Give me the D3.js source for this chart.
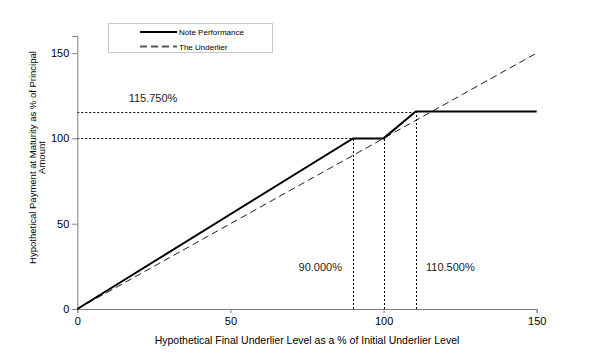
<!DOCTYPE html>
<html><head><meta charset="utf-8">
<script src="https://cdn.jsdelivr.net/npm/d3@7"></script>
<style>body{margin:0;background:#fff}svg{display:block}text{font-family:"Liberation Sans",Arial,sans-serif}</style>
</head><body><svg id="c" width="608" height="356"></svg>
<script>
const levels = [0, 90, 100, 110.5, 150];
const notePerformance = [0, 100, 100, 115.75, 115.75];
const underlierLevels = [0, 150];
const underlierValues = [0, 150];
const xTicks = [0, 50, 100, 150];
const yTicks = [0, 50, 100, 150];
const refV = [{x:90, y:100, label:"90.000%"}, {x:100, y:100, label:null}, {x:110.5, y:115.75, label:"110.500%"}];
const refH = [{x:100, y:100, label:null}, {x:110.5, y:115.75, label:"115.750%"}];
const seriesNames = ["Note Performance", "The Underlier"];

const svg = d3.select("#c");
const x = d3.scaleLinear().domain([0,150]).range([77.3,536.7]);
const y = d3.scaleLinear().domain([0,160]).range([309,36]);

// reference dotted lines
refH.forEach(d=>{
  svg.append("line").attr("x1",x(0)).attr("x2",x(d.x)).attr("y1",Math.round(y(d.y))+0.5).attr("y2",Math.round(y(d.y))+0.5)
    .attr("stroke","#000").attr("stroke-width",1).attr("stroke-dasharray","2,2");
});
refV.forEach(d=>{
  svg.append("line").attr("x1",Math.round(x(d.x))+0.5).attr("x2",Math.round(x(d.x))+0.5).attr("y1",y(0)).attr("y2",y(d.y))
    .attr("stroke","#000").attr("stroke-width",1).attr("stroke-dasharray","2,2");
});

// axes
const gx = svg.append("g").attr("transform",`translate(0,${y(0)})`)
  .call(d3.axisBottom(x).tickValues(xTicks).tickSize(4).tickPadding(4).tickFormat(d3.format("d")));
const gy = svg.append("g").attr("transform",`translate(${x(0)},0)`)
  .call(d3.axisLeft(y).tickValues(yTicks).tickSize(5).tickPadding(3).tickFormat(d3.format("d")));
[gx,gy].forEach(g=>{
  g.select(".domain").attr("stroke","#808080");
  g.selectAll(".tick line").attr("stroke","#808080");
  g.selectAll(".tick text").attr("font-size",11).attr("fill","#000").attr("font-family","Liberation Sans, Arial, sans-serif");
});

// underlier
svg.append("path").datum(underlierLevels.map((v,i)=>[v,underlierValues[i]]))
  .attr("d",d3.line().x(d=>x(d[0])).y(d=>y(d[1])))
  .attr("fill","none").attr("stroke","#222").attr("stroke-width",1).attr("stroke-dasharray","7,4");
// note performance
svg.append("path").datum(levels.map((v,i)=>[v,notePerformance[i]]))
  .attr("d",d3.line().x(d=>x(d[0])).y(d=>y(d[1])))
  .attr("fill","none").attr("stroke","#000").attr("stroke-width",2);

// annotations
svg.append("text").attr("x",153).attr("y",102).attr("text-anchor","middle").attr("font-size",11).attr("fill","#222").text(refH[1].label);
svg.append("text").attr("x",342).attr("y",271).attr("text-anchor","end").attr("font-size",11).attr("fill","#222").text(refV[0].label);
svg.append("text").attr("x",426).attr("y",271).attr("text-anchor","start").attr("font-size",11).attr("fill","#222").text(refV[2].label);

// axis titles
svg.append("text").attr("x",307).attr("y",344).attr("text-anchor","middle").attr("font-size",10.5).attr("fill","#000")
  .text("Hypothetical Final Underlier Level as a % of Initial Underlier Level");
const yt = svg.append("text").attr("transform","translate(35.5,157.5) rotate(-90)").attr("text-anchor","middle").attr("font-size",9.5).attr("fill","#000");
yt.append("tspan").attr("x",0).attr("y",0).text("Hypothetical Payment at Maturity as % of Principal");
yt.append("tspan").attr("x",0).attr("y",9).text("Amount");

// legend
const lg = svg.append("g");
lg.append("rect").attr("x",108.5).attr("y",23.5).attr("width",164).attr("height",29).attr("fill","#fff").attr("stroke","#c8c8c8");
lg.append("line").attr("x1",140).attr("x2",177).attr("y1",32).attr("y2",32).attr("stroke","#000").attr("stroke-width",2);
lg.append("line").attr("x1",140).attr("x2",177).attr("y1",46.5).attr("y2",46.5).attr("stroke","#555").attr("stroke-width",2).attr("stroke-dasharray","7,4");
lg.append("text").attr("x",179).attr("y",35).attr("font-size",8).attr("fill","#000").text(seriesNames[0]);
lg.append("text").attr("x",179).attr("y",49.5).attr("font-size",8).attr("fill","#000").text(seriesNames[1]);
</script></body></html>
